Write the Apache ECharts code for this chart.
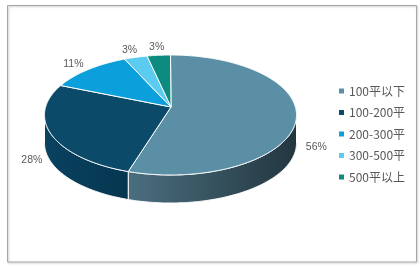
<!DOCTYPE html>
<html>
<head>
<meta charset="utf-8">
<script src="https://cdn.jsdelivr.net/npm/echarts@6/dist/echarts.min.js"></script>
<style>html,body{margin:0;padding:0;background:#fff;}#chart{width:420px;height:267px;}</style>
</head>
<body>
<div id="chart"></div>
<script>
// ---- data ----
const categories = ['100平以下', '100-200平', '200-300平', '300-500平', '500平以上'];
const values = [56, 28, 11, 3, 3];
const labelTexts = ['56%', '28%', '11%', '3%', '3%'];

// ---- style ----
const topColors = ['#5b8fa6', '#0c4a69', '#0ba0dc', '#5ccbf0', '#0e8b80'];
const sideColors = [['#4b6f80', '#22363f'], ['#0a4260', '#053650'], ['#0888bb', '#06709a'], ['#4fb0d2', '#3d98b8'], ['#0b7269', '#095f58']];
const geo = { cx: 170.5, cy: 115, rx: 126, ry: 60, depth: 28, ax: 171, ay: 107, lrx: 148, lry: 68, lfront: 21 };

const total = values.reduce((a, b) => a + b, 0);
const starts = [];
let acc = 0;
values.forEach(v => { starts.push(acc / total * Math.PI * 2); acc += v; });
const ends = values.map((v, i) => starts[i] + v / total * Math.PI * 2);

function pt(t, dy) {
  return [geo.cx + geo.rx * Math.sin(t), geo.cy - geo.ry * Math.cos(t) + (dy || 0)];
}
function arc(a, b, dy) {
  const pts = [];
  const n = Math.max(2, Math.ceil((b - a) / (Math.PI / 360)));
  for (let k = 0; k <= n; k++) pts.push(pt(a + (b - a) * k / n, dy));
  return pts;
}

// label layout
const labelPos = values.map((v, i) => {
  const m = (starts[i] + ends[i]) / 2;
  let x = geo.cx + geo.lrx * Math.sin(m);
  let y = geo.cy - geo.lry * Math.cos(m);
  if (Math.cos(m) < 0) y += geo.lfront;
  return [x, y];
});
// simple overlap avoidance for labels near the top
for (let i = labelPos.length - 2; i >= 0; i--) {
  const a = labelPos[i], b = labelPos[i + 1];
  if (Math.abs(a[1] - b[1]) < 14 && Math.abs(a[0] - b[0]) < 25) {
    a[0] = b[0] + (a[0] < b[0] ? -25 : 25);
  }
}

function renderSlice(params, api) {
  const i = params.seriesIndex;
  const a = starts[i], b = ends[i];
  const children = [];
  const sa = Math.max(a, Math.PI / 2), sb = Math.min(b, Math.PI * 1.5);
  if (sb > sa) {
    const top = arc(sa, sb, 0);
    const bot = arc(sa, sb, geo.depth).reverse();
    children.push({
      type: 'polygon',
      shape: { points: top.concat(bot) },
      style: {
        fill: new echarts.graphic.LinearGradient(0, 0, 1, 0, [
          { offset: 0, color: sideColors[i][0] },
          { offset: 1, color: sideColors[i][1] }
        ]),
        stroke: '#ffffff', lineWidth: 1
      }
    });
  }
  children.push({
    type: 'polygon',
    shape: { points: [[geo.ax, geo.ay]].concat(arc(a, b, 0)) },
    style: { fill: topColors[i], stroke: '#ffffff', lineWidth: 1, lineJoin: 'round' }
  });
  children.push({
    type: 'text',
    style: {
      text: labelTexts[i], x: labelPos[i][0], y: labelPos[i][1],
      align: 'center', verticalAlign: 'middle',
      fill: '#595959', fontSize: 10.5, fontFamily: 'Liberation Sans, Arial, sans-serif'
    }
  });
  return { type: 'group', children: children };
}

const chart = echarts.init(document.getElementById('chart'), null, { renderer: 'canvas' });
chart.setOption({
  animation: false,
  backgroundColor: '#ffffff',
  color: topColors,
  graphic: [{
    type: 'rect',
    shape: { x: 7.5, y: 5.5, width: 409, height: 256.5 },
    style: { fill: 'none', stroke: '#a6a6a6', lineWidth: 1, shadowColor: 'rgba(0,0,0,0.25)', shadowBlur: 2, shadowOffsetX: 1, shadowOffsetY: 1 },
    z: -10
  }],
  legend: {
    orient: 'vertical',
    left: 339, top: 84,
    padding: 0,
    icon: 'rect',
    itemWidth: 5, itemHeight: 5,
    itemGap: 7.5,
    textStyle: { color: '#595959', fontSize: 12, lineHeight: 14, fontFamily: '"Noto Sans CJK SC", sans-serif' },
    data: categories
  },
  series: categories.map((c, i) => ({
    type: 'custom',
    name: c,
    coordinateSystem: 'none',
    itemStyle: { color: topColors[i] },
    data: [[values[i]]],
    renderItem: renderSlice
  }))
});
</script>
</body>
</html>
